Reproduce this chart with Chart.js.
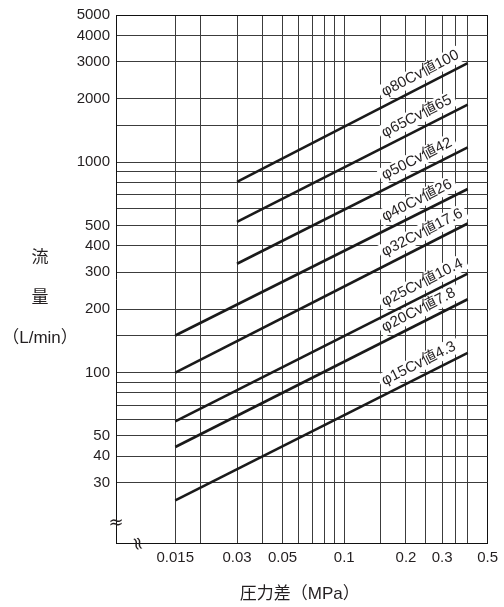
<!DOCTYPE html>
<html><head><meta charset="utf-8">
<script src="https://cdn.jsdelivr.net/npm/chart.js@4.4.1/dist/chart.umd.min.js"></script>
<style>html,body{margin:0;padding:0;background:#fff;}canvas{display:block;}</style>
</head><body>
<canvas id="c" width="504" height="607"></canvas>
<script>
// ---- data ----
const seriesNames   = ['φ80Cv値100','φ65Cv値65','φ50Cv値42','φ40Cv値26','φ32Cv値17.6','φ25Cv値10.4','φ20Cv値7.8','φ15Cv値4.3'];
const startPressure = [0.03, 0.03, 0.03, 0.015, 0.015, 0.015, 0.015, 0.015];
const endPressure   = [0.4, 0.4, 0.4, 0.4, 0.4, 0.4, 0.4, 0.4];
const startFlow     = [806, 520, 329, 150, 100, 58.6, 44.3, 24.7];
const endFlow       = [2953, 1877, 1176, 745, 511, 295, 223, 124];
const xGridValues   = [0.015,0.02,0.03,0.04,0.05,0.06,0.07,0.08,0.09,0.1,0.15,0.2,0.25,0.3,0.35,0.4,0.5];
const xTickLabels   = [0.015,0.03,0.05,0.1,0.2,0.3,0.5];
const yGridValues   = [30,40,50,60,70,80,90,100,150,200,300,400,500,600,700,800,900,1000,1500,2000,3000,4000,5000];
const yTickLabels   = [30,40,50,100,200,300,400,500,1000,2000,3000,4000,5000];
const xTitle = '圧力差（MPa）';
const yTitleLines = ['流','量','（L/min）'];

// ---- styling / layout ----
const LATIN = '"Liberation Sans", "Noto Sans CJK JP", sans-serif';
const TEXT = '#231f20';
const GRID = '#3c3c3c';
const LABEL_AT = 0.15;

const datasets = seriesNames.map((name, i) => ({
  label: name,
  data: [{x: startPressure[i], y: startFlow[i]}, {x: endPressure[i], y: endFlow[i]}],
  borderColor: '#1a1a1a', borderWidth: 2.6, pointRadius: 0, fill: false, tension: 0
}));

const annot = {
  id: 'annot',
  beforeDatasetsDraw(chart) {
    const ctx = chart.ctx, xs = chart.scales.x;
    ctx.save();
    ctx.font = '15px ' + LATIN;
    chart.data.datasets.forEach((ds, i) => {
      const meta = chart.getDatasetMeta(i);
      const p0 = meta.data[0], p1 = meta.data[1];
      const ang = Math.atan2(p1.y - p0.y, p1.x - p0.x);
      const xa = xs.getPixelForValue(LABEL_AT);
      const ya = p0.y + (xa - p0.x) * (p1.y - p0.y) / (p1.x - p0.x);
      ctx.save();
      ctx.translate(xa, ya);
      ctx.rotate(ang);
      const w = ctx.measureText(ds.label).width;
      ctx.fillStyle = '#fff';
      ctx.fillRect(6, -21, w + 7, 17);
      ctx.fillStyle = TEXT;
      ctx.textBaseline = 'middle';
      ctx.textAlign = 'left';
      ctx.fillText(ds.label, 9, -12.5);
      ctx.restore();
    });
    ctx.restore();
  },
  afterDraw(chart) {
    const ctx = chart.ctx, a = chart.chartArea;
    ctx.save();
    ctx.fillStyle = TEXT;
    ctx.textAlign = 'center';
    ctx.textBaseline = 'middle';
    ctx.font = '17px ' + LATIN;
    const ys = [258, 298, 338];
    yTitleLines.forEach((t, i) => ctx.fillText(t, 40, ys[i]));
    ctx.fillText(xTitle, (a.left + a.right) / 2 - 2, 594);
    // axis break marks
    ctx.font = '18px "DejaVu Sans", sans-serif';
    ctx.fillText('≈', a.left, a.bottom - 20);
    ctx.save();
    ctx.translate(a.left + 21, a.bottom + 1);
    ctx.rotate(Math.PI * 0.42);
    ctx.fillText('≈', 0, 0);
    ctx.restore();
    ctx.restore();
  }
};

new Chart(document.getElementById('c'), {
  type: 'line',
  data: { datasets },
  plugins: [annot],
  options: {
    responsive: false,
    animation: false,
    layout: { padding: { top: 9, right: 14, left: 0, bottom: 0 } },
    plugins: { legend: { display: false }, tooltip: { enabled: false } },
    scales: {
      x: {
        type: 'logarithmic', min: 0.00771, max: 0.5,
        afterBuildTicks: s => { s.ticks = xGridValues.map(v => ({ value: v })); },
        afterFit: s => { s.height = 64; },
        ticks: {
          autoSkip: false, maxRotation: 0, minRotation: 0, padding: 6, color: TEXT,
          font: { family: LATIN, size: 15 },
          callback: v => xTickLabels.includes(v) ? String(v) : ''
        },
        grid: { drawTicks: false, lineWidth: 1,
          color: c => (c.tick && c.tick.value === 0.5) ? '#111' : GRID },
        border: { display: true, color: '#111', width: 1 }
      },
      y: {
        type: 'logarithmic', min: 15.5, max: 5000,
        afterBuildTicks: s => { s.ticks = yGridValues.map(v => ({ value: v })); },
        afterFit: s => { s.width = 116; },
        ticks: {
          autoSkip: false, padding: 6, color: TEXT,
          font: { family: LATIN, size: 15 },
          callback: v => yTickLabels.includes(v) ? String(v) : ''
        },
        grid: { drawTicks: false, lineWidth: 1,
          color: c => (c.tick && c.tick.value === 5000) ? '#111' : GRID },
        border: { display: true, color: '#111', width: 1 }
      }
    }
  }
});
</script>
</body></html>
